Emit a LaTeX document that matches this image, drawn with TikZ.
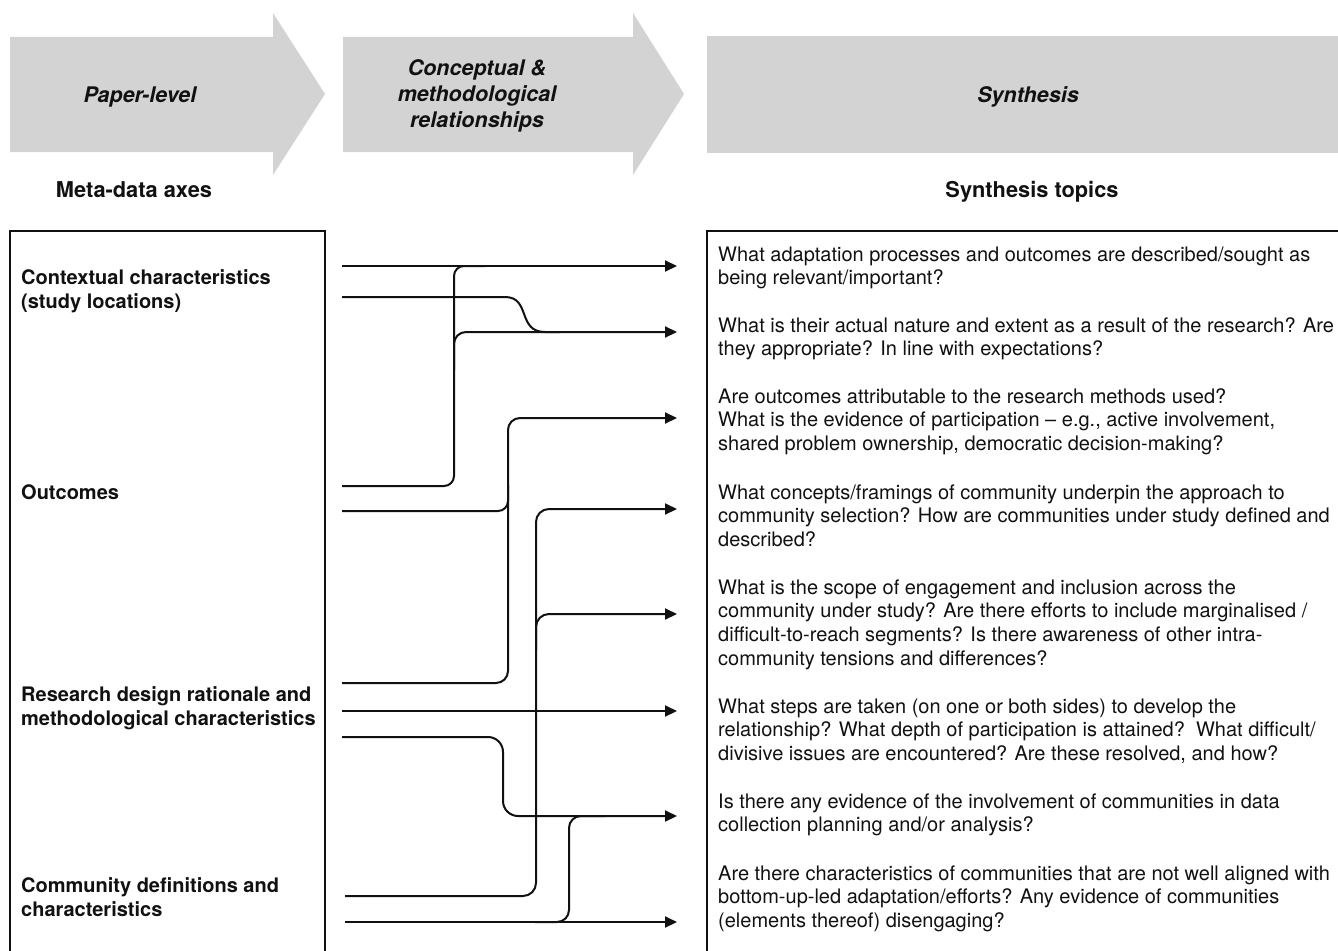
\documentclass[tikz,border=0pt]{standalone}
\usepackage{fontspec}
\setmainfont{TeX Gyre Heros}
\usetikzlibrary{arrows.meta}
\definecolor{hdrgray}{RGB}{211,211,211}
\definecolor{ink}{RGB}{17,17,17}
\begin{document}
\begin{tikzpicture}[x=1pt,y=-1pt,
  hdr/.style={fill=hdrgray},
  hdrtext/.style={font=\fontsize{21.5}{26}\selectfont\bfseries\itshape, align=center, anchor=base, inner sep=0, text=ink},
  coltitle/.style={font=\fontsize{21.8}{26}\selectfont\bfseries, anchor=base, inner sep=0, text=ink},
  lbl/.style={font=\fontsize{20}{24}\selectfont\bfseries, align=left, anchor=base west, inner sep=0, text=ink},
  topic/.style={font=\fontsize{20}{23.8}\selectfont, align=left, anchor=base west, inner sep=0, text=ink},
  framebox/.style={draw=ink, line width=1.6pt},
  conn/.style={draw=ink, line width=2pt},
  arr/.style={conn, -{Triangle[length=12pt,width=11pt]}}]
\useasboundingbox (0,0) rectangle (1338,950);

% header arrows
\fill[hdr] (10,37) -- (273,37) -- (273,13) -- (325,94) -- (273,175) -- (273,152) -- (10,152) -- cycle;
\fill[hdr] (343,37) -- (633,37) -- (633,13) -- (684,94) -- (633,175) -- (633,152) -- (343,152) -- cycle;
\fill[hdr] (707,36) rectangle (1345,153);

% (base anchor of a multi-line node = baseline of its last line)
\node[hdrtext] (hpaper) at (140,102) {Paper-level};
\node[hdrtext] (hconc) at (477,127) {Conceptual \&\\methodological\\relationships};
\node[hdrtext] (hsyn) at (1028,102) {Synthesis};

\node[coltitle] (tmeta) at (134,197) {Meta-data axes};
\node[coltitle] (tsyn) at (1032,197) {Synthesis topics};

% boxes
\draw[framebox] (10,231) rectangle (325,965);
\draw[framebox] (707,231) rectangle (1350,965);

% left labels
\node[lbl] (a1) at (21,308) {Contextual characteristics\\(study locations)};
\node[lbl] (a2) at (21,499) {Outcomes};
\node[lbl] (a3) at (21,725) {Research design rationale and\\methodological characteristics};
\node[lbl] (a4) at (21,916) {Community definitions and\\characteristics};

% topics
\node[topic] (t1) at (718,284.8) {What adaptation processes and outcomes are described/sought as\\being relevant/important?};
\node[topic] (t2) at (718,355.8) {What is their actual nature and extent as a result of the research? Are\\they appropriate? In line with expectations?};
\node[topic] (t3) at (718,450.6) {Are outcomes attributable to the research methods used?\\What is the evidence of participation -- e.g., active involvement,\\shared problem ownership, democratic decision-making?};
\node[topic] (t4) at (718,546.6) {What concepts/framings of community underpin the approach to\\community selection? How are communities under study defined and\\described?};
\node[topic] (t5) at (718,665.4) {What is the scope of engagement and inclusion across the\\community under study? Are there efforts to include marginalised /\\difficult-to-reach segments? Is there awareness of other intra-\\community tensions and differences?};
\node[topic] (t6) at (718,760.6) {What steps are taken (on one or both sides) to develop the\\relationship? What depth of participation is attained?\ \ What difficult/\\divisive issues are encountered? Are these resolved, and how?};
\node[topic] (t7) at (718,831.8) {Is there any evidence of the involvement of communities in data\\collection planning and/or analysis?};
\node[topic] (t8) at (718,927.6) {Are there characteristics of communities that are not well aligned with\\bottom-up-led adaptation/efforts? Any evidence of communities\\(elements thereof) disengaging?};

% connector end points
\coordinate (s1) at (342,266);
\coordinate (s2) at (342,297);
\coordinate (s3) at (342,486);
\coordinate (s4) at (342,511);
\coordinate (s5) at (342,683);
\coordinate (s6) at (342,711);
\coordinate (s7) at (342,737);
\coordinate (s8) at (345,896);
\coordinate (s9) at (345,922);
\coordinate (e1) at (677,266);
\coordinate (e2) at (677,332);
\coordinate (e3) at (677,418);
\coordinate (e4) at (677,509);
\coordinate (e5) at (677,614);
\coordinate (e6) at (677,711);
\coordinate (e7) at (677,816);
\coordinate (e8) at (677,922);

% connectors
\draw[arr] (s1) -- (e1);
\draw[arr] (s2) -- (505,297) .. controls (531,297) and (517,332) .. (545,332) -- (e2);
\draw[conn, rounded corners=10pt] (s3) -- (454,486) -- (454,266) -- (485,266);
\draw[conn, rounded corners=12pt] (454,370) -- (454,332) -- (560,332);
\draw[arr, rounded corners=12pt] (s5) -- (508,683) -- (508,418) -- (e3);
\draw[conn, rounded corners=10pt] (s4) -- (508,511) -- (508,485);
\draw[arr, rounded corners=13pt] (s8) -- (536,896) -- (536,509) -- (e4);
\draw[arr, rounded corners=13pt] (536,650) -- (536,614) -- (e5);
\draw[arr] (s6) -- (e6);
\draw[arr, rounded corners=15pt] (s7) -- (503,737) -- (503,816) -- (e7);
\draw[arr] (s9) -- (e8);
\draw[conn, rounded corners=12pt] (535,922) -- (569,922) -- (569,816) -- (605,816);
\end{tikzpicture}
\end{document}
